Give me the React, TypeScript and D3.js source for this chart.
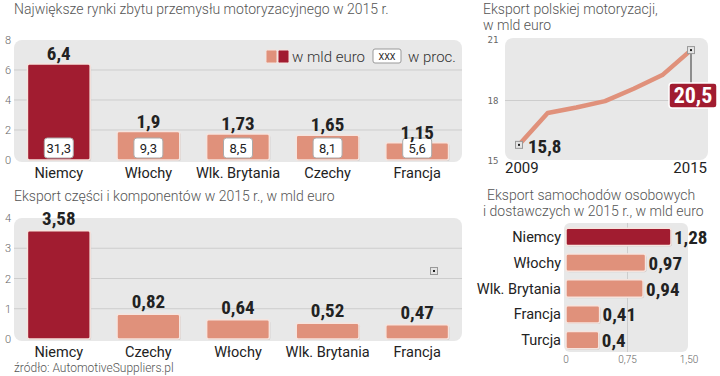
import React from "react";
import * as d3 from "d3";

const marketCats = ["Niemcy", "Włochy", "Wlk. Brytania", "Czechy", "Francja"];
const marketValues = [6.4, 1.9, 1.73, 1.65, 1.15];
const marketLabels = ["6,4", "1,9", "1,73", "1,65", "1,15"];
const marketPct = ["31,3", "9,3", "8,5", "8,1", "5,6"];
const marketTicks = [0, 2, 4, 6, 8];

const partsCats = ["Niemcy", "Czechy", "Włochy", "Wlk. Brytania", "Francja"];
const partsValues = [3.58, 0.82, 0.64, 0.52, 0.47];
const partsLabels = ["3,58", "0,82", "0,64", "0,52", "0,47"];
const partsTicks = [0, 1, 2, 3, 4];

const years = [2009, 2010, 2011, 2012, 2013, 2014, 2015];
const polandExport = [15.8, 17.38, 17.65, 17.97, 18.58, 19.26, 20.5];
const polandTicks = [15, 18, 21];

const carCats = ["Niemcy", "Włochy", "Wlk. Brytania", "Francja", "Turcja"];
const carValues = [1.28, 0.97, 0.94, 0.41, 0.4];
const carLabels = ["1,28", "0,97", "0,94", "0,41", "0,4"];
const carTicks = [0, 0.75, 1.5];
const carTickLabels = ["0", "0,75", "1,50"];

const DARK = "#a11c30";
const SALMON = "#e0917b";
const PANEL = "#e8e8e8";
const GRID = "#cdcdcd";
const TXT = "#222";
const LIGHT = "#555";
const REG = "Roboto, 'Noto Sans', sans-serif";
const BOLD = "'Roboto Condensed', 'Liberation Sans Narrow', 'DejaVu Sans Condensed', Roboto, sans-serif";

function Marker({ x, y }: { x: number; y: number }) {
  return (
    <g>
      <rect x={x - 3.5} y={y - 3.5} width={7} height={7} fill="#e4e4e4" stroke="#999" strokeWidth={1} />
      <rect x={x - 1} y={y - 1} width={2} height={2} fill="#222" />
    </g>
  );
}

function Bar({ x, y, w, h, fill }: { x: number; y: number; w: number; h: number; fill: string }) {
  return (
    <g>
      <rect x={x + 1} y={y + 1} width={w} height={h} rx={2} fill="#c9c9c9" />
      <rect x={x} y={y} width={w} height={h} rx={2} fill={fill} stroke="#f6e4de" strokeWidth={1.5} />
    </g>
  );
}

export default function App() {
  // Top-left chart
  const x1 = d3.scaleBand<string>().domain(marketCats).range([14, 462]).paddingInner(0.3).paddingOuter(0.15);
  const y1 = d3.scaleLinear().domain([0, 8]).range([160, 40]);
  // Bottom-left chart
  const x2 = d3.scaleBand<string>().domain(partsCats).range([14, 462]).paddingInner(0.3).paddingOuter(0.15);
  const y2 = d3.scaleLinear().domain([0, 4]).range([339, 218]);
  // Line chart
  const x3 = d3.scaleLinear().domain([2009, 2015]).range([519, 691]);
  const y3 = d3.scaleLinear().domain([15, 21]).range([161, 40]);
  const line = d3
    .line<number>()
    .x((_, i) => x3(years[i]))
    .y((d) => y3(d));
  // Horizontal bars
  const x4 = d3.scaleLinear().domain([0, 1.5]).range([566, 689]);
  const y4 = d3.scaleBand<string>().domain(carCats).range([224, 353]).paddingInner(0.33).paddingOuter(0.165);

  const last = polandExport.length - 1;

  return (
    <svg width={720} height={376} style={{ position: "absolute", left: 0, top: 0, background: "#fff" }}>
      {/* ===== Top-left ===== */}
      <text x={14} y={14} fontFamily={REG} fontWeight={300} fontSize={14} fill={LIGHT}>
        Największe rynki zbytu przemysłu motoryzacyjnego w 2015 r.
      </text>
      <rect x={14} y={40} width={448} height={122} rx={8} fill={PANEL} />
      {marketTicks.filter((t) => t > 0 && t < 8).map((t) => (
        <line key={t} x1={14} x2={462} y1={y1(t)} y2={y1(t)} stroke={GRID} strokeWidth={1} />
      ))}
      {marketTicks.map((t) => (
        <text key={t} x={8} y={y1(t) + 4} textAnchor="middle" fontFamily={REG} fontWeight={300} fontSize={11} fill="#666">
          {t}
        </text>
      ))}
      {/* legend */}
      <rect x={266} y={50} width={11} height={13} rx={1.5} fill={SALMON} stroke="#f6e4de" />
      <rect x={278} y={50} width={11} height={13} rx={1.5} fill={DARK} stroke="#f6e4de" />
      <text x={292} y={62} fontFamily={REG} fontWeight={300} fontSize={15} fill="#333">w mld euro</text>
      <rect x={373} y={49} width={28} height={14} rx={2} fill="#fff" stroke="#999" />
      <text x={387} y={60} textAnchor="middle" fontFamily={REG} fontSize={9} fill="#222">XXX</text>
      <text x={408} y={62} fontFamily={REG} fontWeight={300} fontSize={15} fill="#333">w proc.</text>
      {marketCats.map((c, i) => {
        const bx = x1(c)!;
        const bw = x1.bandwidth();
        const top = y1(marketValues[i]);
        const cx = bx + bw / 2;
        return (
          <g key={c}>
            <Bar x={bx} y={top} w={bw} h={y1(0) - top} fill={i === 0 ? DARK : SALMON} />
            <rect x={cx - 14.5} y={138} width={29} height={20} rx={3} fill="#fff" stroke="#aaa" />
            <text x={cx} y={153} textAnchor="middle" fontFamily={REG} fontSize={13} fill="#222">{marketPct[i]}</text>
            <text x={cx} y={top - 4} textAnchor="middle" fontFamily={BOLD} fontWeight={700} fontSize={19} fill={TXT}>
              {marketLabels[i]}
            </text>
            <text x={cx} y={178} textAnchor="middle" fontFamily={REG} fontSize={14.5} fill={TXT}>{c}</text>
          </g>
        );
      })}

      {/* ===== Bottom-left ===== */}
      <text x={14} y={201} fontFamily={REG} fontWeight={300} fontSize={14} fill={LIGHT}>
        Eksport części i komponentów w 2015 r.,  w mld euro
      </text>
      <rect x={14} y={218} width={448} height={123} rx={8} fill={PANEL} />
      {partsTicks.filter((t) => t > 0 && t < 4).map((t) => (
        <line key={t} x1={14} x2={462} y1={y2(t)} y2={y2(t)} stroke={GRID} strokeWidth={1} />
      ))}
      {partsTicks.map((t) => (
        <text key={t} x={8} y={y2(t) + 4} textAnchor="middle" fontFamily={REG} fontWeight={300} fontSize={11} fill="#666">
          {t}
        </text>
      ))}
      {partsCats.map((c, i) => {
        const bx = x2(c)!;
        const bw = x2.bandwidth();
        const top = y2(partsValues[i]);
        const cx = bx + bw / 2;
        return (
          <g key={c}>
            <Bar x={bx} y={top} w={bw} h={y2(0) - top} fill={i === 0 ? DARK : SALMON} />
            <text x={cx} y={top - 6} textAnchor="middle" fontFamily={BOLD} fontWeight={700} fontSize={19} fill={TXT}>
              {partsLabels[i]}
            </text>
            <text x={cx} y={357} textAnchor="middle" fontFamily={REG} fontSize={14.5} fill={TXT}>{c}</text>
          </g>
        );
      })}
      <Marker x={434} y={271} />
      <text x={14} y={372} fontFamily={REG} fontWeight={300} fontSize={12} fill={LIGHT}>
        źródło: AutomotiveSuppliers.pl
      </text>

      {/* ===== Top-right line chart ===== */}
      <text x={483} y={14} fontFamily={REG} fontWeight={300} fontSize={14} fill={LIGHT}>Eksport polskiej motoryzacji,</text>
      <text x={483} y={30} fontFamily={REG} fontWeight={300} fontSize={14} fill={LIGHT}>w mld euro</text>
      <rect x={505} y={38} width={203} height={122} rx={8} fill={PANEL} />
      <line x1={505} x2={708} y1={y3(18)} y2={y3(18)} stroke={GRID} />
      {polandTicks.map((t) => (
        <text key={t} x={493} y={y3(t) + 3} textAnchor="middle" fontFamily="'DejaVu Sans Mono', monospace" fontSize={9} fill="#666">
          {t}
        </text>
      ))}
      <path d={line(polandExport) ?? ""} fill="none" stroke={SALMON} strokeWidth={4.5} strokeLinejoin="round" strokeLinecap="round" />
      <line x1={x3(2015)} x2={x3(2015)} y1={y3(polandExport[last])} y2={84} stroke="#333" strokeWidth={1} />
      <Marker x={x3(2009)} y={y3(polandExport[0])} />
      <Marker x={x3(2015)} y={y3(polandExport[last])} />
      <text x={528} y={153} fontFamily={BOLD} fontWeight={700} fontSize={19} fill={TXT}>15,8</text>
      <rect x={669} y={83} width={48} height={25} rx={3} fill={DARK} stroke="#fff" strokeWidth={1.5} />
      <text x={693} y={103} textAnchor="middle" fontFamily={BOLD} fontWeight={700} fontSize={22} fill="#fff">20,5</text>
      <text x={505} y={173} fontFamily={REG} fontSize={15} fill={TXT}>2009</text>
      <text x={707} y={173} textAnchor="end" fontFamily={REG} fontSize={15} fill={TXT}>2015</text>

      {/* ===== Bottom-right horizontal bars ===== */}
      <text x={487} y={200} fontFamily={REG} fontWeight={300} fontSize={14} fill={LIGHT}>Eksport samochodów osobowych</text>
      <text x={483} y={216} fontFamily={REG} fontWeight={300} fontSize={14} fill={LIGHT}>i dostawczych w 2015 r., w mld euro</text>
      <rect x={564} y={223} width={124} height={129} rx={6} fill={PANEL} />
      <line x1={x4(0.75)} x2={x4(0.75)} y1={223} y2={352} stroke={GRID} />
      {carCats.map((c, i) => {
        const by = y4(c)!;
        const bh = y4.bandwidth();
        const end = x4(carValues[i]);
        const cy = by + bh / 2;
        return (
          <g key={c}>
            <Bar x={x4(0)} y={by} w={end - x4(0)} h={bh} fill={i === 0 ? DARK : SALMON} />
            <text x={end + 3} y={cy + 7} fontFamily={BOLD} fontWeight={700} fontSize={19} fill={TXT}>{carLabels[i]}</text>
            <text x={561} y={cy + 5} textAnchor="end" fontFamily={REG} fontSize={14.5} fill={TXT}>{c}</text>
          </g>
        );
      })}
      {carTicks.map((t, i) => (
        <text key={t} x={x4(t)} y={363} textAnchor="middle" fontFamily={REG} fontWeight={300} fontSize={10} fill="#666">
          {carTickLabels[i]}
        </text>
      ))}
    </svg>
  );
}
